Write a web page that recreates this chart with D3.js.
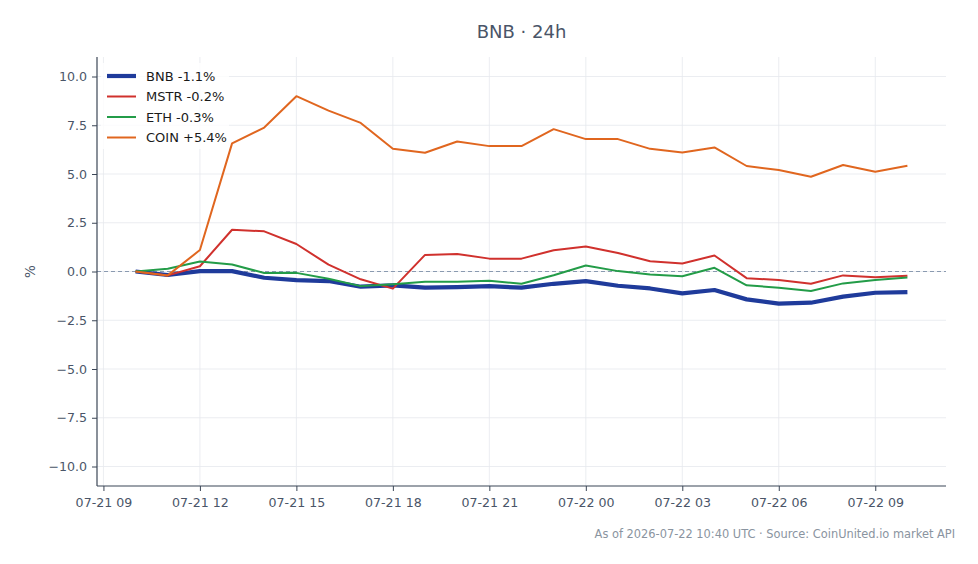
<!DOCTYPE html>
<html>
<head>
<meta charset="utf-8">
<script src="https://cdn.jsdelivr.net/npm/d3@7"></script>
<style>
  html, body { margin: 0; padding: 0; background: #ffffff; }
  svg { display: block; font-family: "DejaVu Sans", sans-serif; }
</style>
</head>
<body>
<svg id="chart" width="978" height="564"></svg>
<script>
// ---- data ----
const times = [
  "2026-07-21T10:00Z","2026-07-21T11:00Z","2026-07-21T12:00Z","2026-07-21T13:00Z","2026-07-21T14:00Z",
  "2026-07-21T15:00Z","2026-07-21T16:00Z","2026-07-21T17:00Z","2026-07-21T18:00Z","2026-07-21T19:00Z",
  "2026-07-21T20:00Z","2026-07-21T21:00Z","2026-07-21T22:00Z","2026-07-21T23:00Z","2026-07-22T00:00Z",
  "2026-07-22T01:00Z","2026-07-22T02:00Z","2026-07-22T03:00Z","2026-07-22T04:00Z","2026-07-22T05:00Z",
  "2026-07-22T06:00Z","2026-07-22T07:00Z","2026-07-22T08:00Z","2026-07-22T09:00Z","2026-07-22T10:00Z"
];
const bnb  = [0.00,-0.18,0.02,0.02,-0.32,-0.44,-0.49,-0.78,-0.71,-0.83,-0.80,-0.75,-0.83,-0.63,-0.49,-0.73,-0.87,-1.12,-0.95,-1.43,-1.65,-1.60,-1.29,-1.09,-1.06];
const mstr = [0.00,-0.20,0.27,2.14,2.06,1.41,0.35,-0.40,-0.88,0.85,0.90,0.66,0.66,1.09,1.28,0.95,0.53,0.41,0.82,-0.34,-0.44,-0.63,-0.20,-0.29,-0.22];
const eth  = [0.00,0.14,0.51,0.36,-0.08,-0.07,-0.37,-0.75,-0.66,-0.53,-0.53,-0.48,-0.63,-0.19,0.31,0.02,-0.15,-0.24,0.19,-0.71,-0.83,-1.00,-0.61,-0.44,-0.31];
const coin = [0.00,-0.20,1.10,6.57,7.38,8.99,8.25,7.62,6.29,6.09,6.67,6.43,6.43,7.30,6.79,6.79,6.29,6.10,6.36,5.41,5.20,4.86,5.46,5.12,5.42];
const seriesNames = ["BNB -1.1%","MSTR -0.2%","ETH -0.3%","COIN +5.4%"];
const yTicks = [-10,-7.5,-5,-2.5,0,2.5,5,7.5,10];
const titleText = "BNB · 24h";
const footerText = "As of 2026-07-22 10:40 UTC · Source: CoinUnited.io market API";

// ---- layout ----
const svg = d3.select("#chart");
const mLeft = 97, mRight = 946, mTop = 57, mBottom = 486;
const parse = d3.utcParse("%Y-%m-%dT%H:%MZ");
const dates = times.map(parse);
const t0 = dates[0], t1 = dates[dates.length - 1];
const pad = (t1 - t0) * 0.05;
const x = d3.scaleUtc().domain([new Date(+t0 - pad), new Date(+t1 + pad)]).range([mLeft, mRight]);
const y = d3.scaleLinear().domain([-11, 11]).range([mBottom, mTop]);

const series = [
  { name: seriesNames[0], values: bnb,  color: "#1f3b9b", width: 4.2 },
  { name: seriesNames[1], values: mstr, color: "#d0312d", width: 2 },
  { name: seriesNames[2], values: eth,  color: "#239c48", width: 2 },
  { name: seriesNames[3], values: coin, color: "#e0661f", width: 2 }
];

const xTickVals = d3.utcHour.every(3).range(d3.utcHour.ceil(x.domain()[0]), x.domain()[1]);
const textColor = "#4a5568";
const axisColor = "#3b4656";

// grid
const grid = svg.append("g");
grid.selectAll("line.gx").data(xTickVals).join("line")
  .attr("x1", d => x(d)).attr("x2", d => x(d)).attr("y1", mTop).attr("y2", mBottom)
  .attr("stroke", "#e6e9ee").attr("stroke-width", 0.8);
grid.selectAll("line.gy").data(yTicks).join("line")
  .attr("x1", mLeft).attr("x2", mRight).attr("y1", d => y(d)).attr("y2", d => y(d))
  .attr("stroke", "#e6e9ee").attr("stroke-width", 0.8);

// zero line
svg.append("line")
  .attr("x1", mLeft).attr("x2", mRight).attr("y1", y(0)).attr("y2", y(0))
  .attr("stroke", "#8a9ab0").attr("stroke-width", 1).attr("stroke-dasharray", "4,3");

// legend background (behind the lines)
svg.append("rect").attr("x", 101).attr("y", 63).attr("width", 128).attr("height", 86)
  .attr("fill", "#ffffff").attr("fill-opacity", 0.8);

// axes
const xAxis = d3.axisBottom(x).tickValues(xTickVals).tickFormat(d3.utcFormat("%m-%d %H")).tickSize(5).tickPadding(5);
const yAxis = d3.axisLeft(y).tickValues(yTicks).tickFormat(d3.format(".1f")).tickSize(5).tickPadding(5);

const gx = svg.append("g").attr("transform", `translate(0,${mBottom})`).call(xAxis);
const gy = svg.append("g").attr("transform", `translate(${mLeft},0)`).call(yAxis);
gx.select(".domain").attr("d", `M${mLeft},0H${mRight}`);
gy.select(".domain").attr("d", `M0,${mBottom}V${mTop}`);
[gx, gy].forEach(g => {
  g.select(".domain").attr("stroke", axisColor).attr("stroke-width", 1.2);
  g.selectAll(".tick line").attr("stroke", axisColor).attr("stroke-width", 1);
  g.selectAll(".tick text").attr("fill", textColor).style("font-size", "12.6px")
    .style("font-family", "'DejaVu Sans', sans-serif");
});
gx.selectAll(".tick text").attr("dy", "0.9em");

// y label
svg.append("text")
  .attr("transform", `translate(35,${y(0)}) rotate(-90)`)
  .attr("text-anchor", "middle")
  .attr("fill", textColor).style("font-size", "13.5px")
  .text("%");

// lines
const line = d3.line().x((d, i) => x(dates[i])).y(d => y(d));
series.forEach(s => {
  svg.append("path").datum(s.values)
    .attr("fill", "none").attr("stroke", s.color).attr("stroke-width", s.width)
    .attr("stroke-linejoin", "round").attr("stroke-linecap", "butt")
    .attr("d", line);
});

// legend
const lg = svg.append("g");
series.forEach((s, i) => {
  const yy = 76 + i * 20.5;
  lg.append("line").attr("x1", 107).attr("x2", 136).attr("y1", yy).attr("y2", yy)
    .attr("stroke", s.color).attr("stroke-width", s.width);
  lg.append("text").attr("x", 146).attr("y", yy).attr("dy", "0.35em")
    .attr("fill", "#1a1a1a").style("font-size", "13px").text(s.name);
});

// title
svg.append("text").attr("x", (mLeft + mRight) / 2).attr("y", 38)
  .attr("text-anchor", "middle").attr("fill", textColor)
  .style("font-size", "18px").text(titleText);

// footer
svg.append("text").attr("x", 955).attr("y", 538)
  .attr("text-anchor", "end").attr("fill", "#8a94a0")
  .style("font-size", "11.4px").text(footerText);
</script>
</body>
</html>
